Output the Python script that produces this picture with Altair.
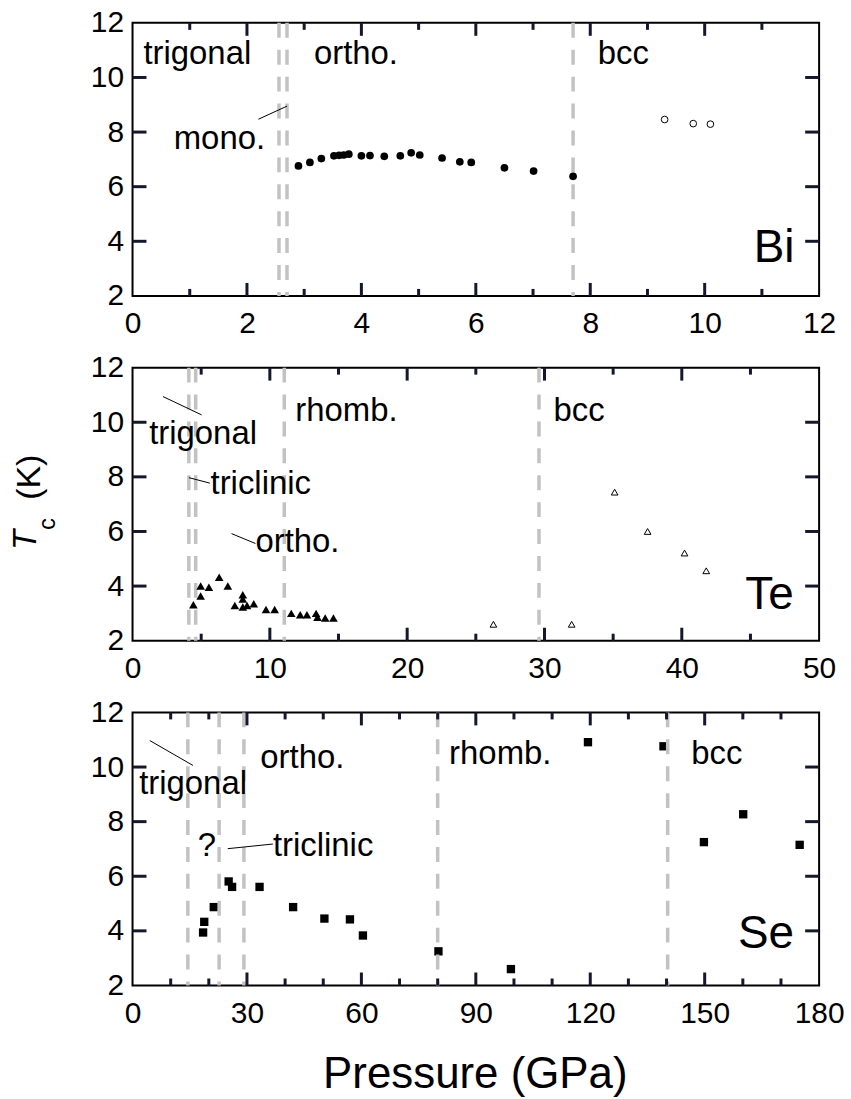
import altair as alt
import pandas as pd

FONT = "Liberation Sans"
W, H = 689, 274
MAJOR_LEN, MINOR_LEN, Y_LEN = 13, 7, 14
TICK_COLOR = "#14182c"

# ---------------- data ----------------
y_ticks = [2, 4, 6, 8, 10, 12]

# Bi
bi_ortho_p = [2.90, 3.10, 3.30, 3.52, 3.61, 3.69, 3.78, 4.00, 4.15, 4.40, 4.68, 4.87, 5.02, 5.41, 5.72, 5.92, 6.50, 7.01, 7.70]
bi_ortho_tc = [6.76, 6.89, 7.03, 7.13, 7.15, 7.16, 7.19, 7.13, 7.14, 7.11, 7.13, 7.24, 7.16, 7.05, 6.91, 6.89, 6.69, 6.57, 6.38]
bi_bcc_p = [9.30, 9.80, 10.10]
bi_bcc_tc = [8.46, 8.31, 8.29]
bi_x_major = [0, 2, 4, 6, 8, 10, 12]
bi_x_minor = [1, 3, 5, 7, 9, 11]
bi_lines = [2.56, 2.70, 7.70]
bi_labels = ["trigonal", "ortho.", "bcc", "mono."]
bi_label_x = [0.19, 3.17, 8.13, 0.72]
bi_label_y = [10.49, 10.51, 10.51, 7.38]
bi_ptr = {"x1": [2.20], "y1": [8.47], "x2": [2.70], "y2": [8.95]}

# Te
te_low_p = [4.43, 4.96, 4.96, 5.56, 6.31, 6.94, 7.45, 8.03, 8.03, 8.03, 8.34, 8.83, 9.72, 10.35, 11.56, 12.21, 12.70, 13.37, 13.47, 14.03, 14.63]
te_low_tc = [3.32, 3.64, 4.00, 3.96, 4.32, 4.00, 3.29, 3.68, 3.53, 3.23, 3.29, 3.35, 3.14, 3.14, 3.00, 2.95, 2.95, 3.00, 2.86, 2.83, 2.83]
te_high_p = [26.28, 31.98, 35.11, 37.51, 40.20, 41.78]
te_high_tc = [2.60, 2.60, 7.44, 6.00, 5.21, 4.56]
te_x_major = [0, 10, 20, 30, 40, 50]
te_x_minor = [5, 15, 25, 35, 45]
te_lines = [4.10, 4.60, 11.05, 29.60]
te_labels = ["trigonal", "rhomb.", "triclinic", "ortho.", "bcc"]
te_label_x = [1.21, 11.85, 5.68, 8.95, 30.65]
te_label_y = [9.22, 10.06, 7.36, 5.23, 10.03]
te_ptr = {"x1": [2.22, 4.11, 7.21], "y1": [10.94, 7.97, 5.92],
          "x2": [5.03, 5.63, 8.95], "y2": [10.27, 7.77, 5.56]}

# Se
se_p = [18.5, 18.8, 21.3, 25.2, 26.1, 33.3, 42.1, 50.3, 57.0, 60.4, 80.2, 99.2, 119.4, 139.2, 149.8, 160.1, 174.9]
se_tc = [3.94, 4.33, 4.87, 5.81, 5.61, 5.61, 4.87, 4.45, 4.42, 3.83, 3.25, 2.60, 10.91, 10.76, 7.25, 8.27, 7.15]
se_x_major = [0, 30, 60, 90, 120, 150, 180]
se_x_minor = [10, 20, 40, 50, 70, 80, 100, 110, 130, 140, 160, 170]
se_lines = [14.5, 22.7, 29.2, 80.0, 140.3]
se_labels = ["ortho.", "trigonal", "?", "triclinic", "rhomb.", "bcc"]
se_label_x = [33.5, 1.74, 17.1, 36.8, 83.0, 146.5]
se_label_y = [9.98, 9.03, 6.75, 6.75, 10.12, 10.12]
se_ptr = {"x1": [4.52, 24.96], "y1": [10.97, 7.01], "x2": [15.83, 36.8], "y2": [10.06, 7.18]}

names = ["Bi", "Te", "Se"]
name_x = [11.57, 48.15, 173.4]
name_y = [3.23, 3.17, 3.39]


def panel(xmax, xmajor, xminor, lines, point_sets, labels, lab_x, lab_y, ptr,
          name, nx, ny, lines_on_top=False, extra=None):
    xs = alt.Scale(domain=[0, xmax], nice=False, zero=False)
    ys = alt.Scale(domain=[2, 12], nice=False, zero=False)
    xaxis = alt.Axis(values=xmajor, ticks=False, domain=False, grid=False,
                     labelFlush=False, labelOverlap=False, labelPadding=13,
                     labelFontSize=30, labelFont=FONT, labelColor="black",
                     title=None, format="d")
    yaxis = alt.Axis(values=y_ticks, ticks=False, domain=False, grid=False,
                     labelFlush=False, labelOverlap=False, labelPadding=9,
                     labelFontSize=30, labelFont=FONT, labelColor="black",
                     title=None, format="d")

    def X(f):
        return alt.X(f, type="quantitative", scale=xs, axis=xaxis)

    def Y(f):
        return alt.Y(f, type="quantitative", scale=ys, axis=yaxis)

    layers = []
    dashed = alt.Chart(pd.DataFrame({"v": lines})).mark_rule(
        color="#c2c2c2", strokeWidth=3.5, strokeDash=[15, 12]).encode(
        x=X("v"), y=alt.value(0), y2=alt.value(H))
    pts = []
    for (pp, tt, kw) in point_sets:
        d = pd.DataFrame({"p": pp, "t": tt})
        pts.append(alt.Chart(d).mark_point(**kw).encode(x=X("p"), y=Y("t")))
    if lines_on_top:
        layers += pts + [dashed]
    else:
        layers += [dashed] + pts

    # inward ticks
    xin = [float(v) for v in xmajor if 0 < v < xmax]
    for vals, L in ((xin, MAJOR_LEN), ([float(v) for v in xminor], MINOR_LEN)):
        for (y0, y1) in ((0, L), (H - L, H)):
            d = pd.DataFrame({"tv": vals, "key": [f"{name}-{L}-{y0}"] * len(vals)})
            layers.append(alt.Chart(d).mark_rule(color=TICK_COLOR, strokeWidth=3).encode(
                x=X("tv"), y=alt.value(y0), y2=alt.value(y1)))
    yin = [float(v) for v in y_ticks if 2 < v < 12]
    for (x0, x1) in ((0, Y_LEN), (W - Y_LEN, W)):
        d = pd.DataFrame({"tv": yin, "key": [f"{name}-y-{x0}"] * len(yin)})
        layers.append(alt.Chart(d).mark_rule(color=TICK_COLOR, strokeWidth=3).encode(
            y=Y("tv"), x=alt.value(x0), x2=alt.value(x1)))

    dp = pd.DataFrame(ptr)
    layers.append(alt.Chart(dp).mark_rule(color="black", strokeWidth=1).encode(
        x=X("x1"), x2="x2", y=Y("y1"), y2="y2"))
    dl = pd.DataFrame({"label": labels, "x": lab_x, "y": lab_y})
    layers.append(alt.Chart(dl).mark_text(
        align="left", baseline="alphabetic", font=FONT, fontSize=33,
        color="black").encode(x=X("x"), y=Y("y"), text="label:N"))
    dn = pd.DataFrame({"label": [name], "x": [nx], "y": [ny]})
    layers.append(alt.Chart(dn).mark_text(
        align="right", baseline="alphabetic", font=FONT, fontSize=46,
        color="black").encode(x=X("x"), y=Y("y"), text="label:N"))
    if extra:
        layers += extra
    return alt.layer(*layers).properties(width=W, height=H)


# y-axis title pieces (in the Te panel, pixel offsets from its plot origin)
ytitle_T = alt.Chart(pd.DataFrame({"s": ["T"]})).mark_text(
    angle=270, align="center", baseline="middle", font=FONT, fontSize=33,
    fontStyle="italic", color="black").encode(
    text="s:N", x=alt.value(-107), y=alt.value(173))
ytitle_c = alt.Chart(pd.DataFrame({"s": ["c"]})).mark_text(
    angle=270, align="center", baseline="middle", font=FONT, fontSize=24,
    color="black").encode(text="s:N", x=alt.value(-85), y=alt.value(157))
ytitle_K = alt.Chart(pd.DataFrame({"s": ["(K)"]})).mark_text(
    angle=270, align="center", baseline="middle", font=FONT, fontSize=34,
    color="black").encode(text="s:N", x=alt.value(-103), y=alt.value(110))
xtitle = alt.Chart(pd.DataFrame({"s": ["Pressure (GPa)"]})).mark_text(
    align="center", baseline="alphabetic", font=FONT, fontSize=44,
    color="black").encode(text="s:N", x=alt.value(344), y=alt.value(377))

bi = panel(12, bi_x_major, bi_x_minor, bi_lines,
           [(bi_ortho_p, bi_ortho_tc, dict(shape="circle", filled=True, size=60, color="black", opacity=1)),
            (bi_bcc_p, bi_bcc_tc, dict(shape="circle", filled=False, size=45, color="black", strokeWidth=1, opacity=1))],
           bi_labels, bi_label_x, bi_label_y, bi_ptr, names[0], name_x[0], name_y[0])
te = panel(50, te_x_major, te_x_minor, te_lines,
           [(te_low_p, te_low_tc, dict(shape="triangle-up", filled=True, size=75, color="black", opacity=1)),
            (te_high_p, te_high_tc, dict(shape="triangle-up", filled=False, size=45, color="black", strokeWidth=1, opacity=1))],
           te_labels, te_label_x, te_label_y, te_ptr, names[1], name_x[1], name_y[1],
           extra=[ytitle_T, ytitle_c, ytitle_K])
se = panel(180, se_x_major, se_x_minor, se_lines,
           [(se_p, se_tc, dict(shape="square", filled=True, size=70, color="black", opacity=1))],
           se_labels, se_label_x, se_label_y, se_ptr, names[2], name_x[2], name_y[2],
           lines_on_top=True, extra=[xtitle])

chart = alt.vconcat(bi, te, se, spacing=72, bounds="flush").properties(
    padding={"left": 9, "top": 5, "right": 5, "bottom": 0},
    background="white",
).configure_view(stroke="black", strokeWidth=2)

chart.save("out.html", embed_options={"renderer": "svg", "actions": False})
